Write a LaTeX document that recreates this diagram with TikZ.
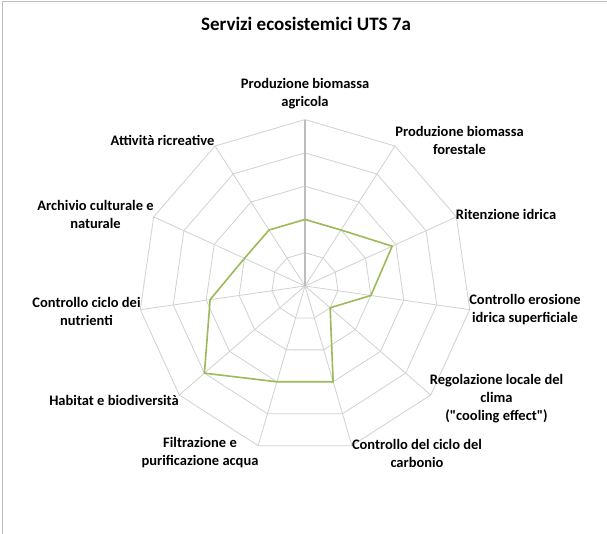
\documentclass[tikz,border=0pt]{standalone}
\usepackage{fontspec}
\setmainfont{Carlito}
\newfontfamily\calib{Carlito}
\begin{document}
\begin{tikzpicture}[x=1pt,y=-1pt,
  grid/.style={draw=black!18,line width=0.8pt},
  valaxis/.style={draw=black!26,line width=1.1pt},
  dataline/.style={line width=1.6pt,line join=miter},
  framel/.style={draw=black!25,line width=1pt},
  lbl/.style={font=\calib\fontsize{14.5}{18}\selectfont\bfseries,align=center,inner sep=0pt},
  ttl/.style={font=\calib\fontsize{19}{22}\selectfont\bfseries,inner sep=0pt}]
\definecolor{datagreen}{HTML}{9BBB59}
\useasboundingbox (0,0) rectangle (607,534);
\fill[white] (0,0) rectangle (607,534);
\draw[framel] (2.5,534) -- (2.5,1.5) -- (607,1.5);
\node[ttl] (title) at (306,24) {Servizi ecosistemici UTS 7a};
\begin{scope}[shift={(305,286)}]
  \foreach \k in {1,...,5} {
    \draw[grid] (-90:\k*33.28)
      \foreach \i in {1,...,10} { -- (-90+\i*32.72727:\k*33.28) } -- cycle;
  }
  \foreach \i in {1,...,10} {
    \draw[grid] (0,0) -- (-90+\i*32.72727:166.4);
  }
  \draw[valaxis] (0,0) -- (-90:166.4);
  \foreach \v [count=\i from 0] in {2,2,2.88,2,1,3,3,4,2.88,2,2} {
    \coordinate (p\i) at (-90+\i*32.72727:\v*33.28);
  }
  \draw[dataline,draw=datagreen] (p0) -- (p1) -- (p2) -- (p3) -- (p4) -- (p5) -- (p6) -- (p7) -- (p8) -- (p9) -- (p10) -- cycle;
\end{scope}
\node[lbl] (l0) at (305,94) {Produzione biomassa\\agricola};
\node[lbl] (l1) at (459.5,140.5) {Produzione biomassa\\forestale};
\node[lbl] (l2) at (506,214) {Ritenzione idrica};
\node[lbl] (l3) at (525,310) {Controllo erosione\\idrica superficiale};
\node[lbl] (l4) at (496.5,398.5) {Regolazione locale del\\clima\\("cooling effect")};
\node[lbl] (l5) at (417,453) {Controllo del ciclo del\\carbonio};
\node[lbl] (l6) at (200,452.5) {Filtrazione e\\purificazione acqua};
\node[lbl] (l7) at (114,400) {Habitat e biodiversità};
\node[lbl] (l8) at (86.5,311) {Controllo ciclo dei\\nutrienti};
\node[lbl] (l9) at (95.5,214) {Archivio culturale e\\naturale};
\node[lbl] (l10) at (162.5,140) {Attività ricreative};
\end{tikzpicture}
\end{document}
